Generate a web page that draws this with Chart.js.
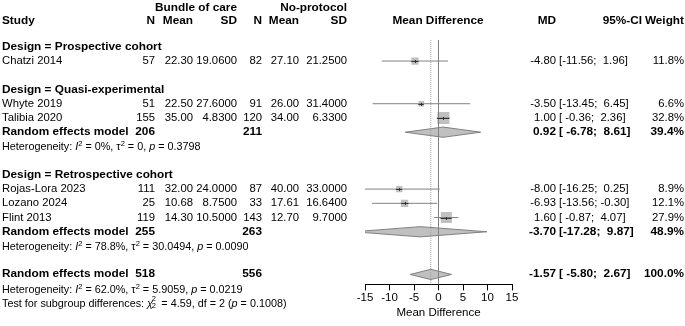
<!DOCTYPE html>
<html>
<head>
<meta charset="utf-8">
<script src="https://cdn.jsdelivr.net/npm/chart.js@4.4.1/dist/chart.umd.min.js"></script>
<style>
  html, body { margin: 0; padding: 0; background: #fff; }
  #wrap { position: relative; width: 685px; height: 326px; overflow: hidden;
          font-family: "Liberation Sans", Arial, sans-serif; color: #000; }
  #c { position: absolute; left: 0; top: 0; }
  .t { position: absolute; white-space: pre; line-height: 1; font-size: 11.3px; }
  .b { font-weight: bold; font-size: 11.8px; }
  .s { font-size: 10.8px; }
  .t sup { font-size: 70%; vertical-align: 0.5em; line-height: 0; }
  .chi { position: relative; display: inline-block; width: 1.05em; }
  .chi i { font-style: italic; }
  .chi .u, .chi .d { position: absolute; left: 0.62em; font-size: 70%; }
  .chi .u { top: -0.45em; }
  .chi .d { top: 0.55em; }
</style>
</head>
<body>
<div id="wrap"><canvas id="c" width="685" height="326"></canvas></div>
<script>
// ── DATA ──
var studies  = ['Chatzi 2014', 'Whyte 2019', 'Talibia 2020', 'Rojas-Lora 2023', 'Lozano 2024', 'Flint 2013'];
var studyGrp = [0, 1, 1, 2, 2, 2];
var nE    = [57, 51, 155, 111, 25, 119];
var meanE = ['22.30', '22.50', '35.00', '32.00', '10.68', '14.30'];
var sdE   = ['19.0600', '27.6000', '4.8300', '24.0000', '8.7500', '10.5000'];
var nC    = [82, 91, 120, 87, 33, 143];
var meanC = ['27.10', '26.00', '34.00', '40.00', '17.61', '12.70'];
var sdC   = ['21.2500', '31.4000', '6.3300', '33.0000', '16.6400', '9.7000'];
var md     = [-4.80, -3.50, 1.00, -8.00, -6.93, 1.60];
var lower  = [-11.56, -13.45, -0.36, -16.25, -13.56, -0.87];
var upper  = [1.96, 6.45, 2.36, 0.25, -0.30, 4.07];
var weight = [11.8, 6.6, 32.8, 8.9, 12.1, 27.9];

// subgroups (null = single study, no pooled row)
var groups   = ['Prospective cohort', 'Quasi-experimental', 'Retrospective cohort'];
var grpNE    = [null, 206, 255];
var grpNC    = [null, 211, 263];
var grpMD    = [null, 0.92, -3.70];
var grpLo    = [null, -6.78, -17.28];
var grpHi    = [null, 8.61, 9.87];
var grpW     = [null, 39.4, 48.9];
var grpI2    = [null, '0%', '78.8%'];
var grpTau2  = [null, '0', '30.0494'];
var grpP     = [null, '0.3798', '0.0090'];

// overall
var allNE = 518, allNC = 556, allMD = -1.57, allLo = -5.80, allHi = 2.67, allW = 100.0;
var allI2 = '62.0%', allTau2 = '5.9059', allP = '0.0219';
var testChi2 = '4.59', testDf = 2, testP = '0.1008';

var xTicks = [-15, -10, -5, 0, 5, 10, 15];

// ── ROW LAYOUT ──
var studyRow = [], grpLabelRow = [], grpSumRow = [], grpHetRow = [];
var r = 3;
groups.forEach(function(g, gi) {
  grpLabelRow[gi] = r++;
  studyGrp.forEach(function(sg, i) { if (sg === gi) studyRow[i] = r++; });
  if (grpMD[gi] !== null) { grpSumRow[gi] = r++; grpHetRow[gi] = r++; }
  r++;
});
var allRow = r, allHetRow = r + 1, testRow = r + 2;

var Y_MIN = 2.52, Y_MAX = 19.70, DIA_H = 0.36;
var GRAY = '#808080', FILL = '#c0c0c0';

function side(w) { return 2.1 * Math.sqrt(w); }
function ciText(lo, hi) {
  return '[' + lo.toFixed(2).padStart(6, ' ') + '; ' + hi.toFixed(2).padStart(5, ' ') + ']';
}
function diamond(est, lo, hi, row) {
  return {
    type: 'line', showLine: true, fill: 'shape', tension: 0,
    data: [{x: lo, y: row}, {x: est, y: row - DIA_H}, {x: hi, y: row}, {x: est, y: row + DIA_H}, {x: lo, y: row}],
    borderColor: GRAY, borderWidth: 1, backgroundColor: FILL, pointRadius: 0
  };
}
function vline(xv, color, dash) {
  return {
    type: 'line', showLine: true, data: [{x: xv, y: Y_MIN}, {x: xv, y: Y_MAX}],
    borderColor: color, borderWidth: 1, borderDash: dash, pointRadius: 0, fill: false
  };
}

var datasets = [];
datasets.push(vline(allMD, '#a0a0a0', [1, 1]));
datasets.push(vline(0, GRAY, []));
md.forEach(function(v, i) {
  datasets.push({
    type: 'line', showLine: true, data: [{x: lower[i], y: studyRow[i]}, {x: upper[i], y: studyRow[i]}],
    borderColor: GRAY, borderWidth: 1, pointRadius: 0, fill: false
  });
});
datasets.push({
  type: 'scatter',
  data: md.map(function(v, i) { return {x: v, y: studyRow[i]}; }),
  pointStyle: 'rect', backgroundColor: FILL, borderWidth: 0,
  pointRadius: weight.map(function(w) { return side(w) / Math.SQRT2; })
});
groups.forEach(function(g, gi) {
  if (grpMD[gi] !== null) datasets.push(diamond(grpMD[gi], grpLo[gi], grpHi[gi], grpSumRow[gi]));
});
datasets.push(diamond(allMD, allLo, allHi, allRow));

// dark CI part inside each square + estimate tick
var innerMarks = {
  id: 'innerMarks',
  afterDatasetsDraw: function(chart) {
    var xs = chart.scales.x, ys = chart.scales.y, ctx = chart.ctx;
    ctx.save(); ctx.strokeStyle = '#333'; ctx.lineWidth = 1;
    md.forEach(function(v, i) {
      var px = Math.round(xs.getPixelForValue(v)), py = Math.round(ys.getPixelForValue(studyRow[i]));
      var h = side(weight[i]) / 2;
      var a = Math.max(xs.getPixelForValue(lower[i]), px - h), b = Math.min(xs.getPixelForValue(upper[i]), px + h);
      ctx.beginPath();
      ctx.moveTo(a, py + 0.5); ctx.lineTo(b, py + 0.5);
      ctx.moveTo(px + 0.5, py - 1); ctx.lineTo(px + 0.5, py + 2);
      ctx.stroke();
    });
    ctx.restore();
  }
};

var chart = new Chart(document.getElementById('c').getContext('2d'), {
  type: 'scatter',
  data: { datasets: datasets },
  options: {
    responsive: false, animation: false, devicePixelRatio: 1,
    layout: { padding: { left: 365, right: 173, top: 40, bottom: 6 } },
    plugins: { legend: { display: false }, tooltip: { enabled: false } },
    events: [],
    scales: {
      x: {
        type: 'linear', min: -15, max: 15,
        afterBuildTicks: function(ax) { ax.ticks = xTicks.map(function(v) { return {value: v}; }); },
        ticks: { color: '#000', font: { family: '"Liberation Sans", Arial', size: 11.5 }, padding: 1, maxRotation: 0 },
        grid: { drawOnChartArea: false, drawTicks: true, tickLength: 6, color: '#000' },
        border: { color: '#000' },
        title: { display: true, text: 'Mean Difference', color: '#000', padding: 0,
                 font: { family: '"Liberation Sans", Arial', size: 11.5 } }
      },
      y: { display: false, min: Y_MIN, max: Y_MAX, reverse: true }
    }
  },
  plugins: [innerMarks]
});

// ── TABLE TEXT ──
var wrap = document.getElementById('wrap');
var ysc = chart.scales.y;
function put(html, x, yv, align, cls) {
  var d = document.createElement('div');
  d.className = 't ' + (cls || '');
  d.innerHTML = html;
  var tx = align === 'right' ? '-100%' : align === 'center' ? '-50%' : '0';
  d.style.left = x + 'px';
  d.style.top = ysc.getPixelForValue(yv) + 'px';
  d.style.transform = 'translate(' + tx + ',-50%)';
  wrap.appendChild(d);
}
var C = { study: 2, nE: 155, meanE: 193, sdE: 237, nC: 262, meanC: 299, sdC: 347,
          plot: 438, md: 556, ci: 559, ciH: 642, w: 684 };

put('Bundle of care', C.sdE, 0.27, 'right', 'b');
put('No-protocol', C.sdC, 0.27, 'right', 'b');
put('Study', C.study, 1.2, 'left', 'b');
put('N', C.nE, 1.2, 'right', 'b'); put('Mean', C.meanE, 1.2, 'right', 'b'); put('SD', C.sdE, 1.2, 'right', 'b');
put('N', C.nC, 1.2, 'right', 'b'); put('Mean', C.meanC, 1.2, 'right', 'b'); put('SD', C.sdC, 1.2, 'right', 'b');
put('Mean Difference', C.plot, 1.2, 'center', 'b');
put('MD', C.md, 1.2, 'right', 'b'); put('95%-CI', C.ciH, 1.2, 'right', 'b'); put('Weight', C.w, 1.2, 'right', 'b');

function hetHtml(i2, tau2, p) {
  return 'Heterogeneity: <i>I</i><sup>2</sup> = ' + i2 + ', \u03c4<sup>2</sup> = ' + tau2 + ', <i>p</i> = ' + p;
}

groups.forEach(function(g, gi) {
  put('Design = ' + g, C.study, grpLabelRow[gi], 'left', 'b');
  if (grpMD[gi] !== null) {
    var rr = grpSumRow[gi];
    put('Random effects model', C.study, rr, 'left', 'b');
    put(String(grpNE[gi]), C.nE, rr, 'right', 'b');
    put(String(grpNC[gi]), C.nC, rr, 'right', 'b');
    put(grpMD[gi].toFixed(2), C.md, rr, 'right', 'b');
    put(ciText(grpLo[gi], grpHi[gi]), C.ci, rr, 'left', 'b');
    put(grpW[gi].toFixed(1) + '%', C.w, rr, 'right', 'b');
    put(hetHtml(grpI2[gi], grpTau2[gi], grpP[gi]), C.study, grpHetRow[gi], 'left', 's');
  }
});
studies.forEach(function(s, i) {
  var rr = studyRow[i];
  put(s, C.study, rr, 'left');
  put(String(nE[i]), C.nE, rr, 'right'); put(meanE[i], C.meanE, rr, 'right'); put(sdE[i], C.sdE, rr, 'right');
  put(String(nC[i]), C.nC, rr, 'right'); put(meanC[i], C.meanC, rr, 'right'); put(sdC[i], C.sdC, rr, 'right');
  put(md[i].toFixed(2), C.md, rr, 'right');
  put(ciText(lower[i], upper[i]), C.ci, rr, 'left');
  put(weight[i].toFixed(1) + '%', C.w, rr, 'right');
});

put('Random effects model', C.study, allRow, 'left', 'b');
put(String(allNE), C.nE, allRow, 'right', 'b');
put(String(allNC), C.nC, allRow, 'right', 'b');
put(allMD.toFixed(2), C.md, allRow, 'right', 'b');
put(ciText(allLo, allHi), C.ci, allRow, 'left', 'b');
put(allW.toFixed(1) + '%', C.w, allRow, 'right', 'b');
put(hetHtml(allI2, allTau2, allP), C.study, allHetRow, 'left', 's');
put('Test for subgroup differences: <span class="chi"><i>\u03c7</i><span class="u">2</span><span class="d">2</span></span> = ' +
    testChi2 + ', df = ' + testDf + ' (<i>p</i> = ' + testP + ')', C.study, testRow, 'left', 's');
</script>
</body>
</html>
